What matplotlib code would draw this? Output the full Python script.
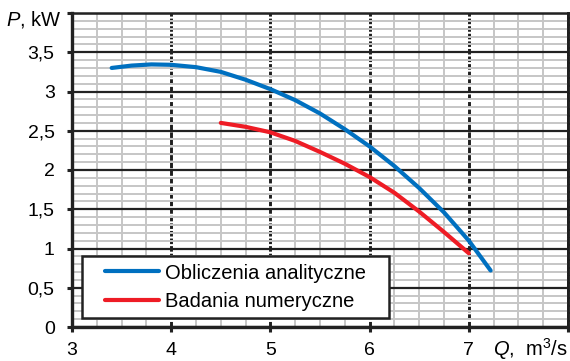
import matplotlib
matplotlib.use("Agg")
import matplotlib.pyplot as plt
from matplotlib.patches import Rectangle
from matplotlib.ticker import MultipleLocator, FuncFormatter

plt.rcParams["font.family"] = ["Liberation Sans", "DejaVu Sans"]
plt.rcParams["mathtext.fontset"] = "custom"
plt.rcParams["mathtext.rm"] = "Liberation Sans"
plt.rcParams["mathtext.it"] = "Liberation Sans:italic"

# analytical curve
q_analityczne = [3.40, 3.60, 3.80, 4.00, 4.25, 4.50, 4.75, 5.00, 5.25,
                 5.50, 5.75, 6.00, 6.25, 6.50, 6.75, 7.00, 7.22]
p_analityczne = [3.30, 3.33, 3.345, 3.34, 3.31, 3.25, 3.15, 3.03, 2.89,
                 2.72, 2.52, 2.30, 2.05, 1.77, 1.46, 1.10, 0.72]

# numerical results
q_numeryczne = [4.50, 4.75, 5.00, 5.25, 5.50, 5.75, 6.00, 6.25, 6.50, 6.75, 7.00]
p_numeryczne = [2.60, 2.55, 2.48, 2.37, 2.23, 2.08, 1.91, 1.71, 1.47, 1.21, 0.94]

x_ticks = [3, 4, 5, 6, 7, 8]
y_ticks = [0, 0.5, 1, 1.5, 2, 2.5, 3, 3.5, 4]


def fmt_y(v, pos):
    if v >= 4 - 1e-9:
        return ""
    return ("%g" % v).replace(".", ",")


def fmt_x(v, pos):
    if v >= 8 - 1e-9:
        return ""
    return "%g" % v


fig = plt.figure(figsize=(5.70, 3.61), dpi=100)
ax = fig.add_axes([72 / 570, 34 / 361, 496 / 570, 314 / 361])

ax.set_xlim(3, 8)
ax.set_ylim(0, 4)
ax.set_xticks(x_ticks)
ax.set_yticks(y_ticks)
ax.xaxis.set_minor_locator(MultipleLocator(0.25))
ax.yaxis.set_minor_locator(MultipleLocator(0.1))
ax.xaxis.set_major_formatter(FuncFormatter(fmt_x))
ax.yaxis.set_major_formatter(FuncFormatter(fmt_y))

ax.grid(True, which="minor", color="#c6c6c6", linewidth=1.4, zorder=0)
ax.grid(True, axis="y", which="major", color="#222222", linewidth=1.6, zorder=1)
ax.grid(True, axis="x", which="major", color="#1e1e1e", linewidth=2.1,
        linestyle=(0, (1.9, 0.7)), zorder=1)
ax.set_axisbelow(True)

ax.tick_params(which="major", direction="out", length=3.5, width=2.2,
               labelsize=14, color="#222222")
ax.tick_params(axis="y", which="major", pad=9)
ax.tick_params(axis="x", which="major", pad=7)
ax.tick_params(which="minor", length=0)

for side in ["left", "bottom"]:
    ax.spines[side].set_linewidth(2.4)
    ax.spines[side].set_color("#222222")
ax.spines["top"].set_linewidth(1.8)
ax.spines["top"].set_color("#222222")
ax.spines["right"].set_linewidth(2.1)
ax.spines["right"].set_color("#1e1e1e")
ax.spines["right"].set_linestyle((0, (1.9, 0.7)))

ax.plot(q_analityczne, p_analityczne, color="#0070C0", linewidth=3,
        solid_capstyle="round", label="Obliczenia analityczne", zorder=5)
ax.plot(q_numeryczne, p_numeryczne, color="#EE1C25", linewidth=3,
        solid_capstyle="round", label="Badania numeryczne", zorder=5)

# legend box drawn by hand so the padding matches the original
box_x, box_y, box_w, box_h = 0.0196, 0.0287, 0.62, 0.197
ax.add_patch(Rectangle((box_x, box_y), box_w, box_h, transform=ax.transAxes,
                       facecolor="white", edgecolor="#222222", linewidth=1.8,
                       zorder=9))
leg = ax.legend(loc="center", bbox_to_anchor=(box_x + box_w / 2, box_y + box_h / 2),
                frameon=False, fontsize=14.5, handlelength=2.7,
                handletextpad=0.3, borderpad=0, borderaxespad=0,
                labelspacing=0.45)
leg.set_zorder(10)

fig.text(62 / 570, 1 - 20 / 361, "$P$, kW", ha="right", va="center",
         fontsize=14.5)
fig.text(568 / 570, 1 - 349 / 361, "$Q$,  m$^3$/s", ha="right", va="center",
         fontsize=14.5)

fig.savefig("out.png", dpi=100)
